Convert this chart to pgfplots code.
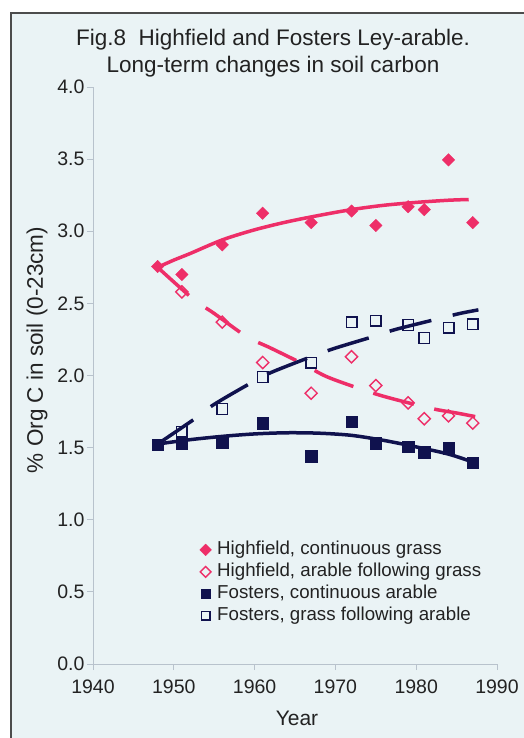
\documentclass[border=0pt]{standalone}
\usepackage{pgfplots}
\pgfplotsset{compat=1.18}
\usepackage{fontspec}
\setmainfont{Liberation Sans}
\definecolor{bgc}{HTML}{EAF3F5}
\definecolor{pinkc}{HTML}{EE2E68}
\definecolor{navyc}{HTML}{10124E}
\definecolor{axc}{HTML}{B8C2CC}
\definecolor{txc}{HTML}{222222}
\begin{document}
\begin{tikzpicture}
\useasboundingbox (0bp,0bp) rectangle (524bp,738bp);
\fill[white] (0bp,0bp) rectangle (524bp,738bp);
\fill[bgc] (11bp,0bp) rectangle (524bp,725bp);
\draw[line width=2bp,gray!60!black] (11bp,0bp) -- (11bp,725bp) -- (524bp,725bp);
\node[txc,font=\fontsize{22.5bp}{27bp}\selectfont,align=center] at (273bp,685bp) {Fig.8\ \ Highfield and Fosters Ley-arable.\\Long-term changes in soil carbon};
\node[txc,font=\fontsize{22.5bp}{26bp}\selectfont,rotate=90] at (37bp,388bp) {\% Org C in soil (0-23cm)};
\node[txc,font=\fontsize{21bp}{24bp}\selectfont] at (297bp,20bp) {Year};
\begin{axis}[
  at={(93bp,74bp)}, anchor=south west,
  scale only axis, width=404bp, height=577bp,
  xmin=1940, xmax=1990, ymin=0, ymax=4,
  axis lines*=left,
  axis line style={axc, line width=1bp},
  xtick={1940,1950,...,1990},
  ytick={0,0.5,...,4},
  tick align=outside,
  major tick length=6bp,
  tick style={axc, line width=0.8bp},
  ticklabel style={txc, font=\fontsize{19.5bp}{23bp}\selectfont},
  /pgf/number format/assume math mode=true,
  yticklabel style={/pgf/number format/.cd, fixed, fixed zerofill, precision=1, /tikz/.cd, xshift=1bp},
  xticklabel style={/pgf/number format/1000 sep={}, yshift=-6bp},
  clip=false,
  legend style={at={(0.262,0.2137)}, anchor=north west, draw=none, fill=none,
     font=\fontsize{18.7bp}{22bp}\selectfont, text=txc, row sep=4bp, inner sep=0bp,
     nodes={inner sep=0bp, text height=14bp, text depth=4bp}},
  legend cell align=left,
  legend image code/.code={\draw[#1] plot coordinates {(0bp,0bp)}; \path (-6bp,0bp) (11bp,0bp);},
]
% trend lines
\addplot[pinkc, line width=3.5bp, smooth, forget plot] coordinates {
 (1948,2.75) (1950,2.80) (1952,2.845) (1956,2.94) (1960,3.01) (1964,3.065) (1968,3.11) (1972,3.15) (1976,3.18) (1980,3.20) (1984,3.215) (1986.5,3.22)};
\addplot[pinkc, line width=3.5bp, dash pattern=on 42bp off 21bp, smooth, forget plot] coordinates {
 (1948,2.75) (1952.4,2.53) (1955,2.43) (1959,2.27) (1962,2.19) (1966,2.08) (1969,1.99) (1974,1.89) (1977,1.84) (1982,1.77) (1985,1.74) (1987.3,1.715)};
\addplot[navyc, line width=3.5bp, smooth, forget plot] coordinates {
 (1948,1.525) (1952,1.555) (1956,1.578) (1960,1.595) (1964,1.603) (1968,1.60) (1972,1.585) (1976,1.55) (1980,1.505) (1984,1.455) (1987,1.40)};
\addplot[navyc, line width=3.5bp, dash pattern=on 43bp off 22bp, smooth, forget plot] coordinates {
 (1948,1.525) (1952.6,1.70) (1955,1.80) (1959.6,1.95) (1962,2.02) (1967,2.13) (1970,2.19) (1975,2.275) (1977.5,2.32) (1982.5,2.39) (1985.4,2.43) (1987.7,2.455)};
% data
\addplot[only marks, mark=square*, mark size=4.4bp, mark options={rotate=45, fill=pinkc, draw=pinkc},
  legend image post style={mark size=4.1bp}] coordinates {
 (1948,2.755) (1951,2.70) (1956,2.906) (1961,3.125) (1967,3.06) (1972,3.14) (1975,3.04) (1979,3.17) (1981,3.15) (1984,3.495) (1987,3.06)};
\addlegendentry{Highfield, continuous grass}
\addplot[only marks, mark=square, mark size=4.3bp, mark options={rotate=45, draw=pinkc, line width=1.4bp},
  legend image post style={mark size=3.8bp}] coordinates {
 (1951,2.58) (1956,2.37) (1961,2.09) (1967,1.877) (1972,2.13) (1975,1.93) (1979,1.81) (1981,1.70) (1984,1.72) (1987,1.67)};
\addlegendentry{Highfield, arable following grass}
\addplot[only marks, mark=square*, mark size=5.8bp, mark options={fill=navyc, draw=navyc},
  legend image post style={mark size=4.4bp}] coordinates {
 (1948,1.52) (1951,1.526) (1956,1.537) (1961,1.67) (1967,1.44) (1972,1.68) (1975,1.53) (1979,1.507) (1981,1.47) (1984,1.496) (1987,1.396)};
\addlegendentry{Fosters, continuous arable}
\addplot[only marks, mark=square, mark size=5.3bp, mark options={draw=navyc, line width=1.4bp},
  legend image post style={mark size=4.3bp, line width=1.2bp}] coordinates {
 (1951,1.61) (1956,1.768) (1961,1.99) (1967,2.09) (1972,2.37) (1975,2.38) (1979,2.35) (1981,2.26) (1984,2.33) (1987,2.355)};
\addlegendentry{Fosters, grass following arable}
\end{axis}
\end{tikzpicture}
\end{document}
